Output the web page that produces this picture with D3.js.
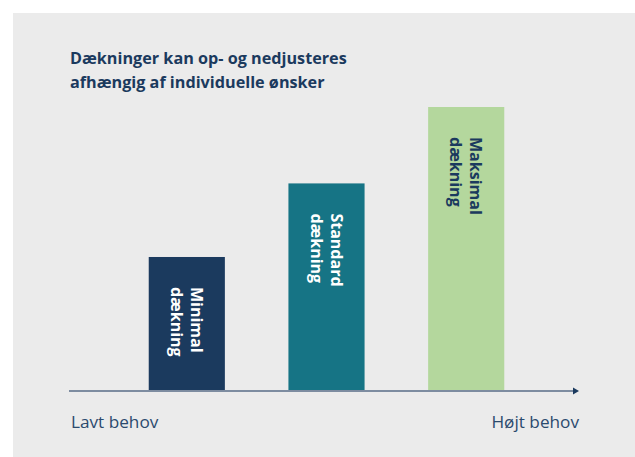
<!DOCTYPE html>
<html>
<head>
<meta charset="utf-8">
<script src="https://cdn.jsdelivr.net/npm/d3@7"></script>
<style>
  html, body { margin: 0; padding: 0; background: #fff; }
  svg { display: block; }
</style>
</head>
<body>
<svg id="chart"></svg>
<script>
// data
const categories = ["Minimal", "Standard", "Maksimal"]
const subLabels = ["dækning", "dækning", "dækning"]
const values = [47, 73, 100]
const barColors = ["#1b3a5e", "#167485", "#b4d79d"]
const labelColors = ["#ffffff", "#ffffff", "#1b3a5e"]
const titleLines = ["Dækninger kan op- og nedjusteres", "afhængig af individuelle ønsker"]
const axisLabels = ["Lavt behov", "Højt behov"]

const width = 635
const height = 457
const font = "'Open Sans', sans-serif"

const svg = d3.select("#chart")
	.attr("width", width)
	.attr("height", height)

// panel
svg.append("rect")
	.attr("x", 13)
	.attr("y", 13)
	.attr("width", width - 13)
	.attr("height", height - 13)
	.attr("fill", "#ebebeb")

// title
svg.append("g")
	.selectAll("text")
	.data(titleLines)
	.join("text")
	.attr("x", 70)
	.attr("y", (d, i) => 64 + i * 24)
	.attr("font-family", font)
	.attr("font-weight", "bold")
	.attr("font-size", 16.2)
	.attr("fill", "#1b3a5e")
	.text((d) => d)

// scales
const x = d3.scaleBand()
	.domain(categories)
	.range([118, 535])
	.paddingInner(0.455)
	.paddingOuter(0.22)

const baseY = 390
const y = d3.scaleLinear()
	.domain([0, 100])
	.range([baseY, 107])

// bars
svg.append("g")
	.selectAll("rect")
	.data(categories)
	.join("rect")
	.attr("x", (d) => x(d))
	.attr("y", (d, i) => y(values[i]))
	.attr("width", x.bandwidth())
	.attr("height", (d, i) => baseY - y(values[i]))
	.attr("fill", (d, i) => barColors[i])

// rotated labels inside the bars, near the top
const labels = svg.append("g")
	.selectAll("g")
	.data(categories)
	.join("g")
	.attr("transform", (d, i) => {
		const cx = x(d) + x.bandwidth() / 2
		const top = y(values[i]) + 30
		return `translate(${cx},${top}) rotate(90)`
	})

labels.append("text")
	.attr("x", 0)
	.attr("y", -4)
	.attr("font-family", font)
	.attr("font-weight", "bold")
	.attr("font-size", 16)
	.attr("fill", (d, i) => labelColors[i])
	.text((d) => d)

labels.append("text")
	.attr("x", 0)
	.attr("y", 16)
	.attr("font-family", font)
	.attr("font-weight", "bold")
	.attr("font-size", 16)
	.attr("fill", (d, i) => labelColors[i])
	.text((d, i) => subLabels[i])

// axis with arrow
const axisX0 = 69
const axisX1 = 579
svg.append("line")
	.attr("x1", axisX0)
	.attr("x2", axisX1 - 4)
	.attr("y1", baseY + 1)
	.attr("y2", baseY + 1)
	.attr("stroke", "#7d8ca0")
	.attr("stroke-width", 2)

svg.append("path")
	.attr("d", `M${axisX1 - 6},${baseY - 2.5} L${axisX1},${baseY + 1} L${axisX1 - 6},${baseY + 4.5} Z`)
	.attr("fill", "#1b3a5e")

// axis end labels
svg.append("g")
	.selectAll("text")
	.data(axisLabels)
	.join("text")
	.attr("x", (d, i) => (i === 0 ? 71 : 579))
	.attr("y", 428)
	.attr("text-anchor", (d, i) => (i === 0 ? "start" : "end"))
	.attr("font-family", font)
	.attr("font-size", 17.2)
	.attr("fill", "#2b4a6e")
	.text((d) => d)
</script>
</body>
</html>
